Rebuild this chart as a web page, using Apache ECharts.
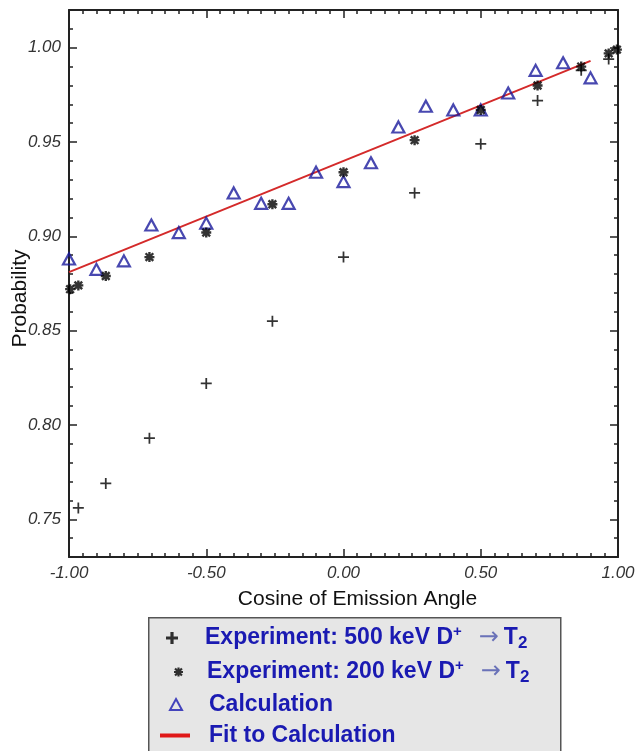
<!DOCTYPE html>
<html><head><meta charset="utf-8">
<script src="https://cdn.jsdelivr.net/npm/echarts@6/dist/echarts.min.js"></script>
<style>html,body{margin:0;padding:0;background:#fff}#c{width:635px;height:751px}</style>
</head><body><div id="c"></div>
<script>
// ---- data ----
const exp500X = [-0.966, -0.866, -0.707, -0.5, -0.259, 0, 0.259, 0.5, 0.707, 0.866, 0.966];
const exp500Y = [0.756, 0.769, 0.793, 0.822, 0.855, 0.889, 0.923, 0.949, 0.972, 0.988, 0.994];
const exp200X = [-0.996, -0.966, -0.866, -0.707, -0.5, -0.259, 0, 0.259, 0.5, 0.707, 0.866, 0.966, 0.996];
const exp200Y = [0.872, 0.874, 0.879, 0.889, 0.902, 0.917, 0.934, 0.951, 0.967, 0.980, 0.990, 0.997, 0.999];
const calcX = [-1.0, -0.9, -0.8, -0.7, -0.6, -0.5, -0.4, -0.3, -0.2, -0.1, 0.0, 0.1, 0.2, 0.3, 0.4, 0.5, 0.6, 0.7, 0.8, 0.9];
const calcY = [0.888, 0.8825, 0.887, 0.906, 0.902, 0.907, 0.923, 0.9175, 0.9175, 0.934, 0.929, 0.939, 0.958, 0.969, 0.967, 0.967, 0.976, 0.988, 0.992, 0.984];
const fitX = [-1.0, 0.9];
const fitY = [0.881, 0.993];
const yMajorTicks = [0.75, 0.80, 0.85, 0.90, 0.95, 1.00];
const seriesNames = ['Experiment: 500 keV D+ → T2', 'Experiment: 200 keV D+ → T2', 'Calculation', 'Fit to Calculation'];
const xTitle = 'Cosine of Emission Angle';
const yTitle = 'Probability';

const zip = (a, b) => a.map((v, i) => [v, b[i]]);

// ---- styles ----
const FONT = 'Liberation Sans';
const AX = '#222';
const BLUE_TXT = '#1a1ab2';
const BLUE_MK = '#1a1a9c';
const RED = '#d42a2a';
const PLUS = 'path://M4.2,0h1.6v4.2h4.2v1.6h-4.2v4.2h-1.6v-4.2h-4.2v-1.6h4.2z';
const PLUS_BOLD = 'path://M4.4,0h3.2v4.4h4.4v3.2h-4.4v4.4h-3.2v-4.4h-4.4v-3.2h4.4z';
const STAR = 'path://M0,3.8L10,3.8L10,6.2L0,6.2Z M6.2,0L6.2,10L3.8,10L3.8,0Z M2.02,0.32L9.68,7.98L7.98,9.68L0.32,2.02Z M0.32,7.98L7.98,0.32L9.68,2.02L2.02,9.68Z';

const fmtNum = v => (Math.abs(v) < 1e-9 ? 0 : v).toFixed(2);

function richLabel(name, sp) {
  const m = name.match(/^(.*) D\+ → T2$/);
  if (m) return '{' + sp + '| }{t|' + m[1] + ' D}{sup|+}{arr|→}{t|T}{sub|2}';
  return '{' + sp + '| }{t|' + name + '}';
}
function rich(spW) {
  return {
    ['sp' + spW]: { width: spW, fontSize: 10, lineHeight: 28 },
    t: { fontSize: 23, fontWeight: 'bold', color: BLUE_TXT, fontFamily: FONT, lineHeight: 28 },
    sup: { fontSize: 15, fontWeight: 'bold', color: BLUE_TXT, fontFamily: FONT, lineHeight: 17, verticalAlign: 'top' },
    arr: { fontSize: 24, color: '#6a72b8', fontFamily: 'DejaVu Sans', lineHeight: 28, padding: [0, 5, 0, 17] },
    sub: { fontSize: 17, fontWeight: 'bold', color: BLUE_TXT, fontFamily: FONT, lineHeight: 18, verticalAlign: 'bottom' }
  };
}
function mkLegend(name, icon, left, top, w, h, spW, itemStyle) {
  return {
    data: [{ name: name, icon: icon, itemStyle: itemStyle }],
    left: left, top: top, itemWidth: w, itemHeight: h, padding: 0,
    selectedMode: false, z: 10,
    formatter: n => richLabel(n, 'sp' + spW),
    textStyle: { fontSize: 23, fontFamily: FONT, color: BLUE_TXT, rich: rich(spW) }
  };
}

const axisLine = { show: true, onZero: false, lineStyle: { color: AX, width: 2 } };
const noLine = { show: false, onZero: false };
const tickStyle = { color: AX, width: 1.5 };
const labelStyle = { fontStyle: 'italic', fontSize: 17, color: '#333', fontFamily: FONT };

const option = {
  animation: false,
  backgroundColor: '#fff',
  grid: { left: 69, right: 17, top: 10, bottom: 194, outerBoundsMode: 'none', containLabel: false },
  graphic: [{
    type: 'rect', left: 148, top: 617, z: 0,
    shape: { width: 412, height: 150 },
    style: { fill: '#e6e6e6', stroke: '#555', lineWidth: 1.5 }
  }],
  xAxis: [
    {
      type: 'value', position: 'bottom', min: -1, max: 1, interval: 0.5,
      axisLine: axisLine,
      axisTick: { inside: true, length: 8, lineStyle: tickStyle },
      minorTick: { show: true, splitNumber: 10, length: 4, lineStyle: tickStyle },
      splitLine: { show: false },
      axisLabel: Object.assign({ margin: 8, formatter: fmtNum }, labelStyle),
      name: xTitle, nameLocation: 'middle', nameGap: 32, nameMoveOverlap: false,
      nameTextStyle: { fontSize: 21, color: '#111', fontFamily: FONT, padding: [0, 0, 0, 28] }
    },
    {
      type: 'value', position: 'top', min: -1, max: 1, interval: 0.5,
      axisLine: axisLine,
      axisTick: { inside: true, length: 8, lineStyle: tickStyle },
      minorTick: { show: true, splitNumber: 10, length: 4, lineStyle: tickStyle },
      splitLine: { show: false }, axisLabel: { show: false }
    }
  ],
  yAxis: [
    {
      type: 'value', position: 'left', min: 0.73, max: 1.02, interval: 0.01,
      axisLine: axisLine,
      axisTick: { inside: true, length: 4, lineStyle: tickStyle },
      splitLine: { show: false },
      axisLabel: Object.assign({ margin: 8, formatter: fmtNum, customValues: yMajorTicks }, labelStyle),
      name: yTitle, nameLocation: 'middle', nameGap: 38, nameMoveOverlap: false,
      nameTextStyle: { fontSize: 21, color: '#111', fontFamily: FONT, padding: [0, 30, 0, 0] }
    },
    {
      type: 'value', position: 'right', min: 0.73, max: 1.02, interval: 0.01,
      axisLine: axisLine,
      axisTick: { inside: true, length: 4, lineStyle: tickStyle },
      splitLine: { show: false }, axisLabel: { show: false }
    },
    {
      type: 'value', position: 'left', min: 0.73, max: 1.02, interval: 0.01,
      axisLine: noLine,
      axisTick: { inside: true, length: 8, lineStyle: tickStyle, customValues: yMajorTicks },
      splitLine: { show: false }, axisLabel: { show: false }
    },
    {
      type: 'value', position: 'right', min: 0.73, max: 1.02, interval: 0.01,
      axisLine: noLine,
      axisTick: { inside: true, length: 8, lineStyle: tickStyle, customValues: yMajorTicks },
      splitLine: { show: false }, axisLabel: { show: false }
    }
  ],
  legend: [
    mkLegend(seriesNames[0], PLUS_BOLD, 166, 624, 12, 12, 22, { color: '#000' }),
    mkLegend(seriesNames[1], STAR, 174, 658, 9, 9, 19, { color: '#000' }),
    mkLegend(seriesNames[2], 'triangle', 169, 693, 12, 11, 22, { color: 'rgba(0,0,0,0)', borderColor: BLUE_TXT, borderWidth: 2 }),
    mkLegend(seriesNames[3], 'rect', 160, 724, 30, 4, 14, { color: '#e01818' })
  ],
  series: [
    {
      name: seriesNames[3], type: 'line', data: zip(fitX, fitY), z: 1,
      symbol: 'none', showSymbol: false,
      lineStyle: { color: RED, width: 2 }, itemStyle: { color: RED }
    },
    {
      name: seriesNames[0], type: 'scatter', data: zip(exp500X, exp500Y), z: 3,
      symbol: PLUS, symbolSize: 11, itemStyle: { color: '#000' }
    },
    {
      name: seriesNames[1], type: 'scatter', data: zip(exp200X, exp200Y), z: 3,
      symbol: STAR, symbolSize: 10, itemStyle: { color: '#000' }
    },
    {
      name: seriesNames[2], type: 'scatter', data: zip(calcX, calcY), z: 2,
      symbol: 'triangle', symbolSize: [12, 11],
      itemStyle: { color: 'rgba(0,0,0,0)', borderColor: BLUE_MK, borderWidth: 2.2 }
    }
  ]
};

const chart = echarts.init(document.getElementById('c'), null, { renderer: 'canvas' });
chart.setOption(option);
</script>
</body></html>
